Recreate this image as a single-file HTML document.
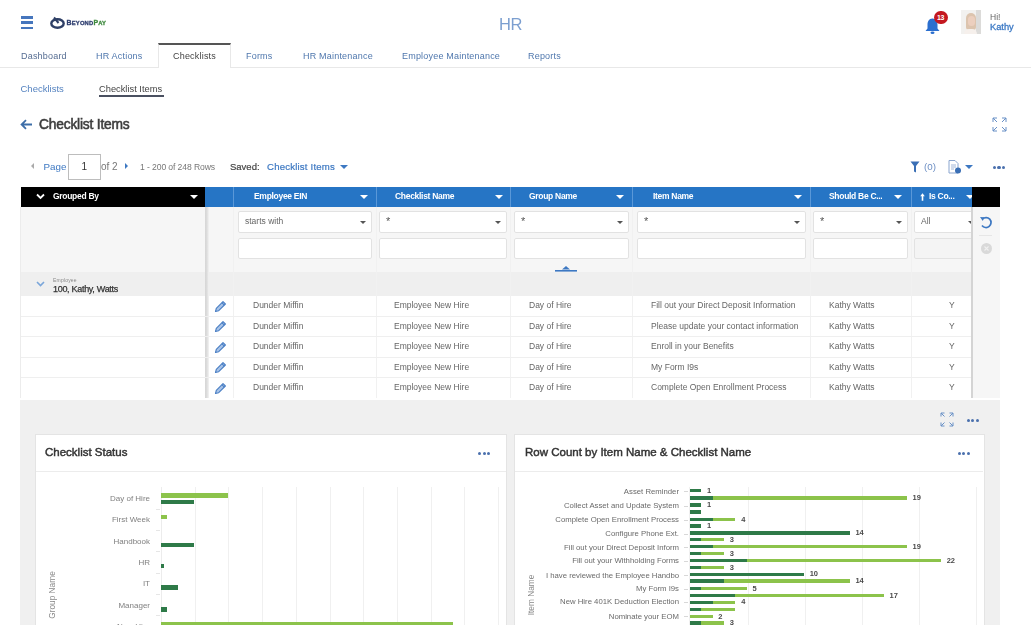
<!DOCTYPE html>
<html><head><meta charset="utf-8">
<style>
*{box-sizing:border-box;margin:0;padding:0}
html,body{width:1031px;height:643px;overflow:hidden;background:#fff;font-family:"Liberation Sans",sans-serif;color:#444}
.a{position:absolute;white-space:nowrap}
.tab{position:absolute;top:51px;font-size:9px;color:#4f77ad;letter-spacing:0.2px}
.hd{position:absolute;top:187px;height:20.5px;background:#2675c5}
.hdt{position:absolute;top:191px;font-size:8.5px;font-weight:bold;color:#fff;letter-spacing:-0.3px}
.arr{position:absolute;top:195px;width:0;height:0;border-left:4px solid transparent;border-right:4px solid transparent;border-top:4px solid #fff}
.sep{position:absolute;top:187px;width:1px;height:20px;background:#5a98d8}
.inp{position:absolute;background:#fff;border:1px solid #e2e2e2;border-radius:2px}
.darr{position:absolute;width:0;height:0;border-left:3.5px solid transparent;border-right:3.5px solid transparent;border-top:3.5px solid #555}
.cell{position:absolute;font-size:8.5px;color:#666}
.vl{position:absolute;width:1px;background:#f1f1f1}
.hl{position:absolute;height:1px;background:#efefef}
</style></head><body><div id="wrap" style="position:absolute;left:0;top:0;width:1031px;height:643px;overflow:hidden;filter:blur(0.5px)">
<!-- header -->
<div class="a" style="left:21px;top:16px;width:12px;height:2.5px;background:#4676bd"></div>
<div class="a" style="left:21px;top:21px;width:12px;height:2.5px;background:#4676bd"></div>
<div class="a" style="left:21px;top:26.5px;width:12px;height:2.5px;background:#4676bd"></div>
<div class="a" style="left:499px;top:14.5px;font-size:16.5px;color:#7c9fd0;letter-spacing:-0.3px">HR</div>


<!-- logo -->
<svg class="a" style="left:50px;top:16px" width="16" height="13" viewBox="0 0 16 13">
<ellipse cx="7.5" cy="7.5" rx="6.2" ry="4.2" fill="none" stroke="#2e3f66" stroke-width="2.4"/>
<path d="M4 1.5 L8.5 7" stroke="#2e3f66" stroke-width="2" fill="none"/>
</svg>
<div class="a" style="left:66.5px;top:19px;font-size:7px;font-weight:bold;color:#2f3f70;letter-spacing:0.2px;-webkit-text-stroke:0.3px #2f3f70">B<span style="font-size:5.8px">EYOND</span><span style="color:#3f8a3f;-webkit-text-stroke:0.3px #3f8a3f">P<span style="font-size:5.8px">AY</span></span></div>
<!-- bell -->
<svg class="a" style="left:924px;top:17px" width="17" height="18" viewBox="0 0 17 18">
<path d="M8.5 1.5 C4.8 1.5 3.5 4.5 3.5 8 L3.5 11.5 L1.5 14 L15.5 14 L13.5 11.5 L13.5 8 C13.5 4.5 12.2 1.5 8.5 1.5 Z" fill="#2b6fcf"/>
<ellipse cx="8.5" cy="15.8" rx="2" ry="1.3" fill="#2b6fcf"/>
</svg>
<div class="a" style="left:933.5px;top:10.5px;width:14px;height:13.5px;border-radius:7px;background:#c41820;color:#fff;font-size:7px;font-weight:bold;text-align:center;line-height:13.5px;letter-spacing:-0.3px">13</div>
<!-- avatar -->
<div class="a" style="left:961px;top:10px;width:20px;height:24px;background:#f2f1ef;overflow:hidden">
 <div class="a" style="left:15px;top:0;width:5px;height:24px;background:#dcdbd9"></div>
 <div class="a" style="left:5px;top:3px;width:10px;height:17px;border-radius:5px 5px 3px 3px;background:#dcc4ae"></div>
 <div class="a" style="left:6.5px;top:5.5px;width:7px;height:10px;border-radius:3.5px;background:#eccfbe"></div>
 <div class="a" style="left:3px;top:19px;width:13px;height:6px;border-radius:5px 5px 0 0;background:#f6f0ec"></div>
</div>
<div class="a" style="left:990px;top:11.5px;font-size:8.5px;color:#666">Hi!</div>
<div class="a" style="left:990px;top:22px;font-size:9.3px;color:#3a78c4;-webkit-text-stroke:0.3px #3a78c4">Kathy</div>

<!-- tab bar -->
<div class="a" style="left:0;top:67px;width:1031px;height:1px;background:#e8e8e8"></div>
<div class="a" style="left:158px;top:43px;width:73px;height:25px;background:#fff;border-top:2px solid #555;border-left:1px solid #e8e8e8;border-right:1px solid #e8e8e8"></div>
<div class="tab" style="left:21px;color:#566d92">Dashboard</div>
<div class="tab" style="left:96px">HR Actions</div>
<div class="tab" style="left:173px;color:#444">Checklists</div>
<div class="tab" style="left:246px">Forms</div>
<div class="tab" style="left:303px">HR Maintenance</div>
<div class="tab" style="left:402px">Employee Maintenance</div>
<div class="tab" style="left:528px">Reports</div>

<!-- sub tabs -->
<div class="a" style="left:20.5px;top:83px;font-size:9.5px;color:#5583c0">Checklists</div>
<div class="a" style="left:99px;top:84px;font-size:9.3px;color:#444">Checklist Items</div>
<div class="a" style="left:99px;top:95px;width:65px;height:2px;background:#4a5060"></div>

<!-- title -->
<div class="a" style="left:39px;top:117px;font-size:13.8px;color:#3d3d3d;letter-spacing:-0.2px;-webkit-text-stroke:0.55px #3d3d3d">Checklist Items</div>
<svg class="a" style="left:20px;top:119px" width="13" height="11" viewBox="0 0 13 11"><path d="M12 5.5 H2 M6 1.2 L1.6 5.5 L6 9.8" stroke="#3d6ea8" stroke-width="1.8" fill="none"/></svg>
<svg class="a" style="left:992px;top:117px" width="15" height="15" viewBox="0 0 15 15" fill="none" stroke="#6890c6" stroke-width="1">
<path d="M1 5 V1 H5 M1 1 L5 5"/><path d="M14 5 V1 H10 M14 1 L10 5"/><path d="M1 10 V14 H5 M1 14 L5 10"/><path d="M14 10 V14 H10 M14 14 L10 10"/></svg>

<!-- toolbar -->
<div class="a" style="left:43.5px;top:160.5px;font-size:9.8px;color:#3d78c2">Page</div>
<div class="a" style="left:68px;top:154px;width:33px;height:26px;border:1px solid #bdbdbd;background:#fff"></div>
<div class="a" style="left:81.5px;top:161px;font-size:10px;color:#333">1</div>
<div class="a" style="left:101px;top:161px;font-size:10px;color:#777">of 2</div>
<div class="a" style="left:140px;top:161.5px;font-size:8.6px;color:#777;letter-spacing:-0.1px">1 - 200 of 248 Rows</div>
<div class="a" style="left:230px;top:160.5px;font-size:9.5px;color:#444;-webkit-text-stroke:0.2px #444">Saved:</div>
<div class="a" style="left:267px;top:160.5px;font-size:9.6px;color:#3d78c2;letter-spacing:0.2px;-webkit-text-stroke:0.2px #3d78c2">Checklist Items</div>

<!-- toolbar icons -->
<div class="a" style="left:31px;top:163px;width:0;height:0;border-top:3px solid transparent;border-bottom:3px solid transparent;border-right:3px solid #aaa"></div>
<div class="a" style="left:125px;top:163px;width:0;height:0;border-top:3px solid transparent;border-bottom:3px solid transparent;border-left:3.5px solid #3d78c2"></div>
<div class="a" style="left:340px;top:165px;width:0;height:0;border-left:4px solid transparent;border-right:4px solid transparent;border-top:4px solid #3d78c2"></div>
<svg class="a" style="left:910px;top:161px" width="10" height="12" viewBox="0 0 10 12"><path d="M0.5 0.5 H9.5 L6 5 V11.5 L4 10.5 V5 Z" fill="#3a6fb5"/></svg>
<div class="a" style="left:924px;top:160.5px;font-size:9.8px;color:#6d8fc4">(0)</div>
<svg class="a" style="left:948px;top:160px" width="14" height="14" viewBox="0 0 14 14"><path d="M1 0.5 H7 L10 3.5 V13 H1 Z" fill="#fff" stroke="#8aa5cf" stroke-width="1"/><path d="M3 5 H8 M3 7 H8 M3 9 H6" stroke="#8aa5cf" stroke-width="0.8"/><circle cx="10" cy="10.5" r="3" fill="#3a6fb5"/></svg>
<div class="a" style="left:965px;top:165px;width:0;height:0;border-left:4px solid transparent;border-right:4px solid transparent;border-top:4px solid #3d78c2"></div>
<div class="a" style="left:992.5px;top:165.5px;width:3.4px;height:3.4px;border-radius:2px;background:#4a70ad"></div>
<div class="a" style="left:997.2px;top:165.5px;width:3.4px;height:3.4px;border-radius:2px;background:#4a70ad"></div>
<div class="a" style="left:1002.0px;top:165.5px;width:3.4px;height:3.4px;border-radius:2px;background:#4a70ad"></div>

<!-- grid header -->
<div class="a" style="left:21px;top:187px;width:184px;height:20.5px;background:#000"></div>
<div class="hd" style="left:205px;width:767px"></div>
<div class="a" style="left:972px;top:187px;width:28px;height:20.5px;background:#000;z-index:5"></div>
<div class="hdt" style="left:53px">Grouped By</div>
<div class="hdt" style="left:254px">Employee EIN</div>
<div class="hdt" style="left:395px">Checklist Name</div>
<div class="hdt" style="left:529px">Group Name</div>
<div class="hdt" style="left:653px">Item Name</div>
<div class="hdt" style="left:829px">Should Be C...</div>
<svg class="a" style="left:920px;top:192.5px" width="5" height="8" viewBox="0 0 5 8"><path d="M2.5 0.3 L4.8 3.2 H3.3 V7.8 H1.7 V3.2 H0.2 Z" fill="#fff"/></svg><div class="hdt" style="left:929px">Is Co...</div>

<!-- filter area -->
<div class="a" style="left:21px;top:207px;width:951px;height:65px;background:#f6f6f6"></div>
<div class="a" style="left:21px;top:272px;width:951px;height:24px;background:#efefef"></div>
<div class="a" style="left:971px;top:207px;width:29px;height:191px;background:#f6f6f6;border-left:2px solid #d4d4d4;z-index:5"></div>

<!-- rows -->
<div class="a" style="left:21px;top:296px;width:951px;height:102px;background:#fff"></div>

<div class="arr" style="left:190px"></div>
<div class="arr" style="left:360px"></div>
<div class="arr" style="left:495px"></div>
<div class="arr" style="left:616px"></div>
<div class="arr" style="left:794px"></div>
<div class="arr" style="left:894px"></div>
<div class="arr" style="left:966px"></div>
<svg class="a" style="left:36px;top:193px" width="9" height="7" viewBox="0 0 9 7"><path d="M1 1.5 L4.5 5 L8 1.5" stroke="#fff" stroke-width="1.8" fill="none"/></svg>
<div class="sep" style="left:233px"></div>
<div class="sep" style="left:376px"></div>
<div class="sep" style="left:510px"></div>
<div class="sep" style="left:632px"></div>
<div class="sep" style="left:810px"></div>
<div class="sep" style="left:911px"></div>
<div class="inp" style="left:238px;top:211px;width:134px;height:22px"></div>
<div class="cell" style="left:245px;top:216px;color:#666">starts with</div>
<div class="darr" style="left:360px;top:221px"></div>
<div class="inp" style="left:238px;top:238px;width:134px;height:21px;background:#fff"></div>
<div class="inp" style="left:379px;top:211px;width:128px;height:22px"></div>
<div class="cell" style="left:386px;top:216px;color:#555;font-size:11px;top:215px">*</div>
<div class="darr" style="left:495px;top:221px"></div>
<div class="inp" style="left:379px;top:238px;width:128px;height:21px;background:#fff"></div>
<div class="inp" style="left:514px;top:211px;width:115px;height:22px"></div>
<div class="cell" style="left:521px;top:216px;color:#555;font-size:11px;top:215px">*</div>
<div class="darr" style="left:617px;top:221px"></div>
<div class="inp" style="left:514px;top:238px;width:115px;height:21px;background:#fff"></div>
<div class="inp" style="left:637px;top:211px;width:169px;height:22px"></div>
<div class="cell" style="left:644px;top:216px;color:#555;font-size:11px;top:215px">*</div>
<div class="darr" style="left:794px;top:221px"></div>
<div class="inp" style="left:637px;top:238px;width:169px;height:21px;background:#fff"></div>
<div class="inp" style="left:813px;top:211px;width:95px;height:22px"></div>
<div class="cell" style="left:820px;top:216px;color:#555;font-size:11px;top:215px">*</div>
<div class="darr" style="left:896px;top:221px"></div>
<div class="inp" style="left:813px;top:238px;width:95px;height:21px;background:#fff"></div>
<div class="inp" style="left:914px;top:211px;width:66px;height:22px"></div>
<div class="cell" style="left:921px;top:216px;color:#666">All</div>
<div class="darr" style="left:968px;top:221px"></div>
<div class="inp" style="left:914px;top:238px;width:66px;height:21px;background:#f4f4f4"></div>
<div class="vl" style="left:233px;top:207px;height:191px"></div>
<div class="vl" style="left:376px;top:207px;height:191px"></div>
<div class="vl" style="left:510px;top:207px;height:191px"></div>
<div class="vl" style="left:632px;top:207px;height:191px"></div>
<div class="vl" style="left:810px;top:207px;height:191px"></div>
<div class="vl" style="left:911px;top:207px;height:191px"></div>
<svg class="a" style="left:555px;top:263px" width="22" height="9" viewBox="0 0 22 9"><path d="M7 6.5 L11 3 L15 6.5 Z" fill="#3d78c2"/><rect x="0" y="7" width="22" height="1.6" fill="#3d78c2"/></svg>
<svg class="a" style="left:36px;top:281px" width="9" height="6" viewBox="0 0 9 6"><path d="M1 1 L4.5 4.5 L8 1" stroke="#7aa6da" stroke-width="1.6" fill="none"/></svg>
<div class="a" style="left:53px;top:277px;font-size:5px;color:#888;letter-spacing:0.2px">Employee</div>
<div class="a" style="left:53px;top:284px;font-size:9px;color:#333;letter-spacing:-0.3px;-webkit-text-stroke:0.25px #333">100, Kathy, Watts</div>
<div class="a" style="left:205px;top:207px;width:4px;height:191px;background:linear-gradient(90deg,#d6d6d6 0,#dcdcdc 45%,#f3f3f3 100%)"></div>
<div class="hl" style="left:21px;top:315.5px;width:951px"></div>
<svg class="a" style="left:214px;top:299.5px" width="13" height="13" viewBox="0 0 13 13"><path d="M1.5 11.5 L2.3 8.3 L9 1.6 L11.4 4 L4.7 10.7 Z" fill="#a9c4e8" stroke="#4a7fc4" stroke-width="1.1" stroke-linejoin="round"/><path d="M7.9 2.7 L10.3 5.1" stroke="#4a7fc4" stroke-width="1.1"/></svg>
<div class="cell" style="left:253px;top:300.3px">Dunder Miffin</div>
<div class="cell" style="left:394px;top:300.3px">Employee New Hire</div>
<div class="cell" style="left:529px;top:300.3px">Day of Hire</div>
<div class="cell" style="left:651px;top:300.3px">Fill out your Direct Deposit Information</div>
<div class="cell" style="left:829px;top:300.3px">Kathy Watts</div>
<div class="cell" style="left:949px;top:300.3px">Y</div>
<div class="hl" style="left:21px;top:336.0px;width:951px"></div>
<svg class="a" style="left:214px;top:320.0px" width="13" height="13" viewBox="0 0 13 13"><path d="M1.5 11.5 L2.3 8.3 L9 1.6 L11.4 4 L4.7 10.7 Z" fill="#a9c4e8" stroke="#4a7fc4" stroke-width="1.1" stroke-linejoin="round"/><path d="M7.9 2.7 L10.3 5.1" stroke="#4a7fc4" stroke-width="1.1"/></svg>
<div class="cell" style="left:253px;top:320.8px">Dunder Miffin</div>
<div class="cell" style="left:394px;top:320.8px">Employee New Hire</div>
<div class="cell" style="left:529px;top:320.8px">Day of Hire</div>
<div class="cell" style="left:651px;top:320.8px">Please update your contact information</div>
<div class="cell" style="left:829px;top:320.8px">Kathy Watts</div>
<div class="cell" style="left:949px;top:320.8px">Y</div>
<div class="hl" style="left:21px;top:356.5px;width:951px"></div>
<svg class="a" style="left:214px;top:340.5px" width="13" height="13" viewBox="0 0 13 13"><path d="M1.5 11.5 L2.3 8.3 L9 1.6 L11.4 4 L4.7 10.7 Z" fill="#a9c4e8" stroke="#4a7fc4" stroke-width="1.1" stroke-linejoin="round"/><path d="M7.9 2.7 L10.3 5.1" stroke="#4a7fc4" stroke-width="1.1"/></svg>
<div class="cell" style="left:253px;top:341.3px">Dunder Miffin</div>
<div class="cell" style="left:394px;top:341.3px">Employee New Hire</div>
<div class="cell" style="left:529px;top:341.3px">Day of Hire</div>
<div class="cell" style="left:651px;top:341.3px">Enroll in your Benefits</div>
<div class="cell" style="left:829px;top:341.3px">Kathy Watts</div>
<div class="cell" style="left:949px;top:341.3px">Y</div>
<div class="hl" style="left:21px;top:377.0px;width:951px"></div>
<svg class="a" style="left:214px;top:361.0px" width="13" height="13" viewBox="0 0 13 13"><path d="M1.5 11.5 L2.3 8.3 L9 1.6 L11.4 4 L4.7 10.7 Z" fill="#a9c4e8" stroke="#4a7fc4" stroke-width="1.1" stroke-linejoin="round"/><path d="M7.9 2.7 L10.3 5.1" stroke="#4a7fc4" stroke-width="1.1"/></svg>
<div class="cell" style="left:253px;top:361.8px">Dunder Miffin</div>
<div class="cell" style="left:394px;top:361.8px">Employee New Hire</div>
<div class="cell" style="left:529px;top:361.8px">Day of Hire</div>
<div class="cell" style="left:651px;top:361.8px">My Form I9s</div>
<div class="cell" style="left:829px;top:361.8px">Kathy Watts</div>
<div class="cell" style="left:949px;top:361.8px">Y</div>

<svg class="a" style="left:214px;top:381.5px" width="13" height="13" viewBox="0 0 13 13"><path d="M1.5 11.5 L2.3 8.3 L9 1.6 L11.4 4 L4.7 10.7 Z" fill="#a9c4e8" stroke="#4a7fc4" stroke-width="1.1" stroke-linejoin="round"/><path d="M7.9 2.7 L10.3 5.1" stroke="#4a7fc4" stroke-width="1.1"/></svg>
<div class="cell" style="left:253px;top:382.3px">Dunder Miffin</div>
<div class="cell" style="left:394px;top:382.3px">Employee New Hire</div>
<div class="cell" style="left:529px;top:382.3px">Day of Hire</div>
<div class="cell" style="left:651px;top:382.3px">Complete Open Enrollment Process</div>
<div class="cell" style="left:829px;top:382.3px">Kathy Watts</div>
<div class="cell" style="left:949px;top:382.3px">Y</div>
<svg class="a" style="z-index:6;left:979px;top:216px" width="14" height="13" viewBox="0 0 14 13"><path d="M3.5 3 A5 5 0 1 1 3 9.5" stroke="#3d78c2" stroke-width="1.7" fill="none"/><path d="M1 1 L5.2 1.3 L3.8 5 Z" fill="#3d78c2"/></svg>
<div class="a" style="z-index:6;left:979px;top:235px;width:13px;height:1px;background:#e6e6e6"></div>
<div class="a" style="z-index:6;left:980.5px;top:243px;width:11px;height:11px;border-radius:6px;background:#d9d9d9"></div>
<svg class="a" style="z-index:6;left:980.5px;top:243px" width="11" height="11" viewBox="0 0 11 11"><path d="M3.5 3.5 L7.5 7.5 M7.5 3.5 L3.5 7.5" stroke="#f0f0f0" stroke-width="1.1"/></svg>
<div class="a" style="left:20px;top:207px;width:1px;height:191px;background:#ececec"></div>
<!-- dashboard -->
<div class="a" style="left:20px;top:400px;width:980px;height:225px;background:#f0f0f0"></div>
<div class="a" style="left:35px;top:434px;width:472px;height:191px;background:#fff;border:1px solid #e4e4e4;border-bottom:0"></div>
<div class="a" style="left:514px;top:434px;width:471px;height:191px;background:#fff;border:1px solid #e4e4e4;border-bottom:0"></div>
<div class="a" style="left:45px;top:446px;font-size:11.5px;color:#333;-webkit-text-stroke:0.45px #333">Checklist Status</div>
<div class="a" style="left:525px;top:446px;font-size:11.5px;color:#333;-webkit-text-stroke:0.45px #333">Row Count by Item Name &amp; Checklist Name</div>
<svg class="a" style="left:940px;top:412px" width="14" height="15" viewBox="0 0 14 15" fill="none" stroke="#6890c6" stroke-width="1"><path d="M1 4.5 V1 H4.5 M1 1 L4.5 4.5"/><path d="M13 4.5 V1 H9.5 M13 1 L9.5 4.5"/><path d="M1 10.5 V14 H4.5 M1 14 L4.5 10.5"/><path d="M13 10.5 V14 H9.5 M13 14 L9.5 10.5"/></svg>
<div class="a" style="left:966.5px;top:418.5px;width:3.2px;height:3.2px;border-radius:2px;background:#4a70ad"></div><div class="a" style="left:971.1px;top:418.5px;width:3.2px;height:3.2px;border-radius:2px;background:#4a70ad"></div><div class="a" style="left:975.7px;top:418.5px;width:3.2px;height:3.2px;border-radius:2px;background:#4a70ad"></div>
<div class="a" style="left:478.0px;top:451.5px;width:3.2px;height:3.2px;border-radius:2px;background:#4a70ad"></div><div class="a" style="left:482.6px;top:451.5px;width:3.2px;height:3.2px;border-radius:2px;background:#4a70ad"></div><div class="a" style="left:487.2px;top:451.5px;width:3.2px;height:3.2px;border-radius:2px;background:#4a70ad"></div>
<div class="a" style="left:957.5px;top:451.5px;width:3.2px;height:3.2px;border-radius:2px;background:#4a70ad"></div><div class="a" style="left:962.1px;top:451.5px;width:3.2px;height:3.2px;border-radius:2px;background:#4a70ad"></div><div class="a" style="left:966.7px;top:451.5px;width:3.2px;height:3.2px;border-radius:2px;background:#4a70ad"></div>
<div class="a" style="left:36px;top:471px;width:470px;height:1px;background:#ececec"></div>
<div class="a" style="left:515px;top:471px;width:468px;height:1px;background:#ececec"></div>
<div class="a" style="left:161.0px;top:487px;width:1px;height:138px;background:#ececec"></div>
<div class="a" style="left:194.7px;top:487px;width:1px;height:138px;background:#f0f0f0"></div>
<div class="a" style="left:228.4px;top:487px;width:1px;height:138px;background:#f0f0f0"></div>
<div class="a" style="left:262.1px;top:487px;width:1px;height:138px;background:#f0f0f0"></div>
<div class="a" style="left:295.8px;top:487px;width:1px;height:138px;background:#f0f0f0"></div>
<div class="a" style="left:329.5px;top:487px;width:1px;height:138px;background:#f0f0f0"></div>
<div class="a" style="left:363.2px;top:487px;width:1px;height:138px;background:#f0f0f0"></div>
<div class="a" style="left:396.9px;top:487px;width:1px;height:138px;background:#f0f0f0"></div>
<div class="a" style="left:430.6px;top:487px;width:1px;height:138px;background:#f0f0f0"></div>
<div class="a" style="left:464.3px;top:487px;width:1px;height:138px;background:#f0f0f0"></div>
<div class="a" style="left:498.0px;top:487px;width:1px;height:138px;background:#f0f0f0"></div>
<div class="a" style="left:60px;width:90px;text-align:right;top:494.0px;font-size:8px;color:#808080">Day of Hire</div>
<div class="a" style="left:155.5px;top:508.6px;width:4px;height:1px;background:#e6e6e6"></div>
<div class="a" style="left:60px;width:90px;text-align:right;top:515.3px;font-size:8px;color:#808080">First Week</div>
<div class="a" style="left:155.5px;top:529.9px;width:4px;height:1px;background:#e6e6e6"></div>
<div class="a" style="left:60px;width:90px;text-align:right;top:536.6px;font-size:8px;color:#808080">Handbook</div>
<div class="a" style="left:155.5px;top:551.2px;width:4px;height:1px;background:#e6e6e6"></div>
<div class="a" style="left:60px;width:90px;text-align:right;top:557.9px;font-size:8px;color:#808080">HR</div>
<div class="a" style="left:155.5px;top:572.5px;width:4px;height:1px;background:#e6e6e6"></div>
<div class="a" style="left:60px;width:90px;text-align:right;top:579.2px;font-size:8px;color:#808080">IT</div>
<div class="a" style="left:155.5px;top:593.8px;width:4px;height:1px;background:#e6e6e6"></div>
<div class="a" style="left:60px;width:90px;text-align:right;top:600.5px;font-size:8px;color:#808080">Manager</div>
<div class="a" style="left:155.5px;top:615.1px;width:4px;height:1px;background:#e6e6e6"></div>
<div class="a" style="left:60px;width:90px;text-align:right;top:621.8px;font-size:8px;color:#808080">New Hire</div>
<div class="a" style="left:155.5px;top:636.4px;width:4px;height:1px;background:#e6e6e6"></div>
<div class="a" style="left:161.0px;top:493.2px;width:67.3px;height:4.5px;background:#8cc34b"></div>
<div class="a" style="left:161.0px;top:499.5px;width:33.0px;height:4.5px;background:#2e7a48"></div>
<div class="a" style="left:161.0px;top:514.7px;width:5.8px;height:4.3px;background:#8cc34b"></div>
<div class="a" style="left:161.0px;top:542.6px;width:33.0px;height:4.6px;background:#2e7a48"></div>
<div class="a" style="left:161.0px;top:564.0px;width:2.5px;height:4.2px;background:#2e7a48"></div>
<div class="a" style="left:161.0px;top:585.0px;width:16.5px;height:4.6px;background:#2e7a48"></div>
<div class="a" style="left:161.0px;top:607.0px;width:6.0px;height:4.5px;background:#2e7a48"></div>
<div class="a" style="left:161.0px;top:621.5px;width:292.0px;height:3.5px;background:#8cc34b"></div>
<div class="a" style="left:51.5px;top:595px;font-size:8.3px;color:#888;transform:translate(-50%,-50%) rotate(-90deg)">Group Name</div>
<div class="a" style="left:689.0px;top:487px;width:1px;height:138px;background:#f0f0f0"></div>
<div class="a" style="left:747.6px;top:487px;width:1px;height:138px;background:#f0f0f0"></div>
<div class="a" style="left:804.7px;top:487px;width:1px;height:138px;background:#f0f0f0"></div>
<div class="a" style="left:861.8px;top:487px;width:1px;height:138px;background:#f0f0f0"></div>
<div class="a" style="left:918.9px;top:487px;width:1px;height:138px;background:#f0f0f0"></div>
<div class="a" style="left:976.0px;top:487px;width:1px;height:138px;background:#f0f0f0"></div>
<div class="a" style="left:530px;width:149px;text-align:right;top:486.9px;font-size:7.75px;color:#6a6a6a;letter-spacing:0px">Asset Reminder</div>
<div class="a" style="left:684px;top:491.4px;width:4px;height:1px;background:#d8d8d8"></div>
<div class="a" style="left:530px;width:149px;text-align:right;top:501.3px;font-size:7.75px;color:#6a6a6a;letter-spacing:0px">Collect Asset and Update System</div>
<div class="a" style="left:684px;top:505.8px;width:4px;height:1px;background:#d8d8d8"></div>
<div class="a" style="left:530px;width:149px;text-align:right;top:515.1px;font-size:7.75px;color:#6a6a6a;letter-spacing:0px">Complete Open Enrollment Process</div>
<div class="a" style="left:684px;top:519.6px;width:4px;height:1px;background:#d8d8d8"></div>
<div class="a" style="left:530px;width:149px;text-align:right;top:529.3px;font-size:7.75px;color:#6a6a6a;letter-spacing:0px">Configure Phone Ext.</div>
<div class="a" style="left:684px;top:533.8px;width:4px;height:1px;background:#d8d8d8"></div>
<div class="a" style="left:530px;width:149px;text-align:right;top:542.9px;font-size:7.75px;color:#6a6a6a;letter-spacing:0px">Fill out your Direct Deposit Inform</div>
<div class="a" style="left:684px;top:547.4px;width:4px;height:1px;background:#d8d8d8"></div>
<div class="a" style="left:530px;width:149px;text-align:right;top:556.3px;font-size:7.75px;color:#6a6a6a;letter-spacing:0px">Fill out your Withholding Forms</div>
<div class="a" style="left:684px;top:560.8px;width:4px;height:1px;background:#d8d8d8"></div>
<div class="a" style="left:530px;width:149px;text-align:right;top:570.5px;font-size:7.75px;color:#6a6a6a;letter-spacing:0px">I have reviewed the Employee Handbo</div>
<div class="a" style="left:684px;top:575.0px;width:4px;height:1px;background:#d8d8d8"></div>
<div class="a" style="left:530px;width:149px;text-align:right;top:584.0px;font-size:7.75px;color:#6a6a6a;letter-spacing:0px">My Form I9s</div>
<div class="a" style="left:684px;top:588.5px;width:4px;height:1px;background:#d8d8d8"></div>
<div class="a" style="left:530px;width:149px;text-align:right;top:597.4px;font-size:7.75px;color:#6a6a6a;letter-spacing:0px">New Hire 401K Deduction Election</div>
<div class="a" style="left:684px;top:601.9px;width:4px;height:1px;background:#d8d8d8"></div>
<div class="a" style="left:530px;width:149px;text-align:right;top:611.7px;font-size:7.75px;color:#6a6a6a;letter-spacing:0px">Nominate your EOM</div>
<div class="a" style="left:684px;top:616.2px;width:4px;height:1px;background:#d8d8d8"></div>
<div class="a" style="left:689.8px;top:488.9px;width:11.4px;height:3.4px;background:#2e7a48"></div>
<div class="a" style="left:706.9px;top:485.8px;font-size:7.5px;font-weight:bold;color:#4a4a4a">1</div>
<div class="a" style="left:689.8px;top:496.4px;width:217.0px;height:3.4px;background:#8cc34b"></div>
<div class="a" style="left:689.8px;top:496.4px;width:22.8px;height:3.4px;background:#2e7a48"></div>
<div class="a" style="left:912.5px;top:493.3px;font-size:7.5px;font-weight:bold;color:#4a4a4a">19</div>
<div class="a" style="left:689.8px;top:503.3px;width:11.4px;height:3.4px;background:#2e7a48"></div>
<div class="a" style="left:706.9px;top:500.2px;font-size:7.5px;font-weight:bold;color:#4a4a4a">1</div>
<div class="a" style="left:689.8px;top:510.3px;width:11.4px;height:3.4px;background:#2e7a48"></div>
<div class="a" style="left:689.8px;top:517.8px;width:45.7px;height:3.4px;background:#8cc34b"></div>
<div class="a" style="left:689.8px;top:517.8px;width:22.8px;height:3.4px;background:#2e7a48"></div>
<div class="a" style="left:741.2px;top:514.7px;font-size:7.5px;font-weight:bold;color:#4a4a4a">4</div>
<div class="a" style="left:689.8px;top:524.4px;width:11.4px;height:3.4px;background:#2e7a48"></div>
<div class="a" style="left:706.9px;top:521.3px;font-size:7.5px;font-weight:bold;color:#4a4a4a">1</div>
<div class="a" style="left:689.8px;top:531.3px;width:159.9px;height:3.4px;background:#2e7a48"></div>
<div class="a" style="left:855.4px;top:528.2px;font-size:7.5px;font-weight:bold;color:#4a4a4a">14</div>
<div class="a" style="left:689.8px;top:537.9px;width:34.3px;height:3.4px;background:#8cc34b"></div>
<div class="a" style="left:689.8px;top:537.9px;width:11.4px;height:3.4px;background:#2e7a48"></div>
<div class="a" style="left:729.8px;top:534.8px;font-size:7.5px;font-weight:bold;color:#4a4a4a">3</div>
<div class="a" style="left:689.8px;top:544.9px;width:217.0px;height:3.4px;background:#8cc34b"></div>
<div class="a" style="left:689.8px;top:544.9px;width:22.8px;height:3.4px;background:#2e7a48"></div>
<div class="a" style="left:912.5px;top:541.8px;font-size:7.5px;font-weight:bold;color:#4a4a4a">19</div>
<div class="a" style="left:689.8px;top:552.1px;width:34.3px;height:3.4px;background:#8cc34b"></div>
<div class="a" style="left:689.8px;top:552.1px;width:11.4px;height:3.4px;background:#2e7a48"></div>
<div class="a" style="left:729.8px;top:549.0px;font-size:7.5px;font-weight:bold;color:#4a4a4a">3</div>
<div class="a" style="left:689.8px;top:559.0px;width:251.2px;height:3.4px;background:#8cc34b"></div>
<div class="a" style="left:689.8px;top:559.0px;width:57.1px;height:3.4px;background:#2e7a48"></div>
<div class="a" style="left:946.7px;top:555.9px;font-size:7.5px;font-weight:bold;color:#4a4a4a">22</div>
<div class="a" style="left:689.8px;top:565.9px;width:34.3px;height:3.4px;background:#8cc34b"></div>
<div class="a" style="left:689.8px;top:565.9px;width:11.4px;height:3.4px;background:#2e7a48"></div>
<div class="a" style="left:729.8px;top:562.8px;font-size:7.5px;font-weight:bold;color:#4a4a4a">3</div>
<div class="a" style="left:689.8px;top:572.5px;width:114.2px;height:3.4px;background:#2e7a48"></div>
<div class="a" style="left:809.7px;top:569.4px;font-size:7.5px;font-weight:bold;color:#4a4a4a">10</div>
<div class="a" style="left:689.8px;top:579.4px;width:159.9px;height:3.4px;background:#8cc34b"></div>
<div class="a" style="left:689.8px;top:579.4px;width:34.3px;height:3.4px;background:#2e7a48"></div>
<div class="a" style="left:855.4px;top:576.3px;font-size:7.5px;font-weight:bold;color:#4a4a4a">14</div>
<div class="a" style="left:689.8px;top:586.7px;width:57.1px;height:3.4px;background:#8cc34b"></div>
<div class="a" style="left:689.8px;top:586.7px;width:11.4px;height:3.4px;background:#2e7a48"></div>
<div class="a" style="left:752.6px;top:583.6px;font-size:7.5px;font-weight:bold;color:#4a4a4a">5</div>
<div class="a" style="left:689.8px;top:593.6px;width:194.1px;height:3.4px;background:#8cc34b"></div>
<div class="a" style="left:689.8px;top:593.6px;width:45.7px;height:3.4px;background:#2e7a48"></div>
<div class="a" style="left:889.6px;top:590.5px;font-size:7.5px;font-weight:bold;color:#4a4a4a">17</div>
<div class="a" style="left:689.8px;top:600.5px;width:45.7px;height:3.4px;background:#8cc34b"></div>
<div class="a" style="left:689.8px;top:600.5px;width:22.8px;height:3.4px;background:#2e7a48"></div>
<div class="a" style="left:741.2px;top:597.4px;font-size:7.5px;font-weight:bold;color:#4a4a4a">4</div>
<div class="a" style="left:689.8px;top:607.7px;width:45.7px;height:3.4px;background:#8cc34b"></div>
<div class="a" style="left:689.8px;top:607.7px;width:11.4px;height:3.4px;background:#2e7a48"></div>
<div class="a" style="left:689.8px;top:614.6px;width:22.8px;height:3.4px;background:#8cc34b"></div>
<div class="a" style="left:718.3px;top:611.5px;font-size:7.5px;font-weight:bold;color:#4a4a4a">2</div>
<div class="a" style="left:689.8px;top:621.2px;width:34.3px;height:3.4px;background:#8cc34b"></div>
<div class="a" style="left:689.8px;top:621.2px;width:11.4px;height:3.4px;background:#2e7a48"></div>
<div class="a" style="left:729.8px;top:618.1px;font-size:7.5px;font-weight:bold;color:#4a4a4a">3</div>
<div class="a" style="left:531px;top:595px;font-size:8.3px;color:#888;transform:translate(-50%,-50%) rotate(-90deg)">Item Name</div>
<div class="a" style="left:0;top:625px;width:1031px;height:18px;background:#fff"></div>
</div></body></html>
